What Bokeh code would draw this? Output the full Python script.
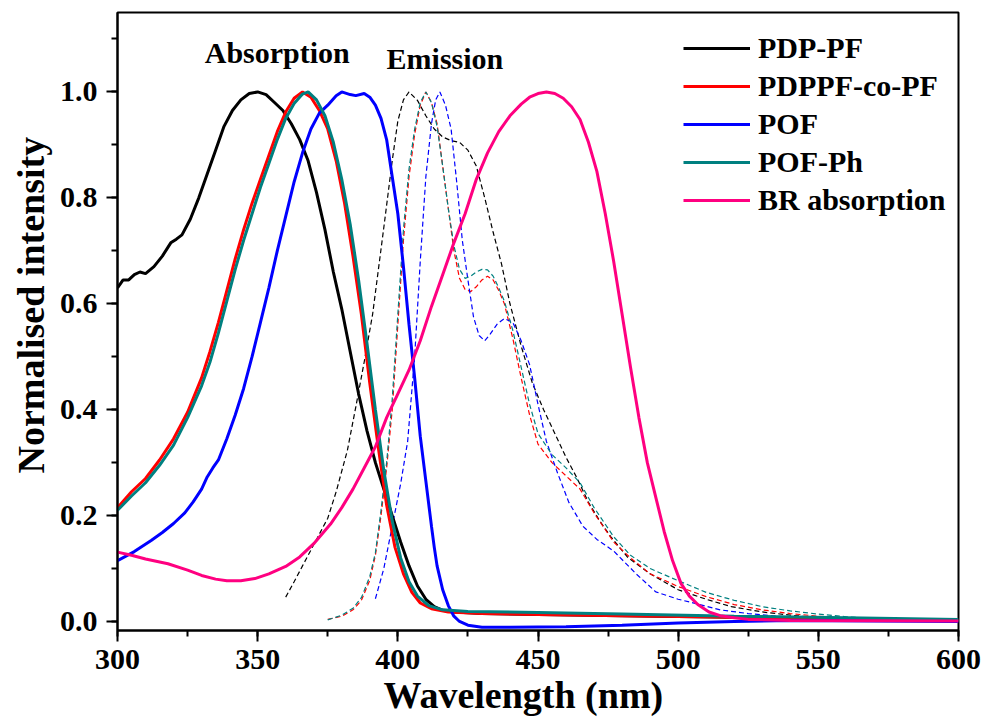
from bokeh.plotting import figure
from bokeh.models import Range1d, SingleIntervalTicker, PrintfTickFormatter, Legend, LegendItem, Label, Title
from bokeh.embed import file_html
from bokeh.resources import INLINE

# ---------------- data ----------------
# Absorption spectra (solid)
pdp_abs_x = [300, 302, 304, 306, 308, 310, 313, 316, 319, 321, 323, 326, 329, 332, 335, 338, 341, 344, 347, 350,
             353, 356, 359, 362, 365, 368, 371, 374, 377, 380, 383, 386, 389, 392, 395, 398, 401, 404, 407, 410,
             413, 416, 420, 430, 450, 480, 520, 560, 600]
pdp_abs_y = [0.63, 0.645, 0.645, 0.655, 0.66, 0.657, 0.67, 0.69, 0.715, 0.722, 0.73, 0.76, 0.80, 0.845, 0.89, 0.935, 0.965, 0.985, 0.997, 1.0,
             0.995, 0.98, 0.965, 0.94, 0.91, 0.87, 0.81, 0.74, 0.66, 0.59, 0.51, 0.43, 0.36, 0.30, 0.25, 0.20, 0.15, 0.105, 0.067, 0.042,
             0.028, 0.021, 0.018, 0.015, 0.013, 0.011, 0.008, 0.005, 0.002]

co_abs_x = [300, 305, 310, 315, 320, 325, 330, 333, 336, 339, 342, 345, 348, 351, 354, 357, 360, 363, 366, 369,
            372, 375, 378, 381, 384, 387, 390, 393, 396, 399, 402, 405, 408, 412, 418, 430, 450, 480, 520, 560, 600]
co_abs_y = [0.215, 0.245, 0.27, 0.305, 0.345, 0.395, 0.46, 0.51, 0.565, 0.625, 0.685, 0.74, 0.79, 0.835, 0.88, 0.925, 0.962, 0.988, 1.0, 0.99,
            0.965, 0.93, 0.87, 0.79, 0.69, 0.58, 0.45, 0.33, 0.22, 0.14, 0.09, 0.055, 0.035, 0.024, 0.018, 0.015, 0.013, 0.011, 0.008, 0.005, 0.002]

pof_abs_x = [300, 306, 312, 316, 320, 324, 327, 330, 332, 334, 336, 339, 342, 345, 348, 351, 354, 357, 360, 363,
             366, 369, 372, 375, 378, 380, 383, 385, 388, 390, 392, 394, 396, 398, 400, 402, 404, 406, 408, 410,
             412, 413, 414, 416, 418, 420, 422, 425, 430, 440, 460, 480, 500, 520, 540, 570, 600]
pof_abs_y = [0.115, 0.132, 0.153, 0.168, 0.185, 0.205, 0.226, 0.25, 0.273, 0.29, 0.305, 0.345, 0.39, 0.44, 0.50, 0.565, 0.63, 0.70, 0.765, 0.83,
             0.885, 0.93, 0.96, 0.975, 0.993, 1.0, 0.995, 0.993, 0.997, 0.99, 0.975, 0.95, 0.91, 0.84, 0.77, 0.67, 0.56, 0.46, 0.35, 0.265,
             0.18, 0.14, 0.105, 0.06, 0.03, 0.01, 0.0, -0.007, -0.011, -0.011, -0.01, -0.007, -0.003, 0.0, 0.002, 0.001, 0.0]

pofph_abs_x = [300, 305, 310, 315, 320, 325, 330, 333, 336, 339, 342, 345, 348, 351, 354, 357, 360, 363, 366, 368,
               371, 374, 377, 380, 383, 386, 389, 392, 395, 398, 401, 404, 407, 411, 416, 425, 450, 480, 520, 560, 600]
pofph_abs_y = [0.21, 0.237, 0.262, 0.295, 0.333, 0.385, 0.445, 0.49, 0.545, 0.605, 0.665, 0.72, 0.77, 0.82, 0.865, 0.91, 0.95, 0.978, 0.996, 1.0,
               0.985, 0.955, 0.905, 0.835, 0.75, 0.645, 0.525, 0.40, 0.285, 0.19, 0.12, 0.075, 0.048, 0.03, 0.022, 0.019, 0.017, 0.014, 0.01, 0.007, 0.004]

br_abs_x = [300, 305, 310, 318, 325, 330, 335, 339, 344, 349, 354, 360, 365, 370, 376, 380, 384, 388, 392, 396,
            400, 404, 408, 412, 416, 420, 424, 428, 432, 436, 440, 444, 447, 450, 453, 456, 459, 462, 465, 468,
            471, 474, 477, 480, 483, 486, 489, 492, 495, 498, 501, 504, 507, 511, 515, 520, 525, 540, 600]
br_abs_y = [0.131, 0.125, 0.118, 0.109, 0.097, 0.087, 0.08, 0.077, 0.077, 0.081, 0.09, 0.104, 0.122, 0.147, 0.184, 0.215, 0.25, 0.29, 0.33, 0.385,
            0.43, 0.475, 0.53, 0.595, 0.655, 0.715, 0.77, 0.835, 0.885, 0.925, 0.955, 0.977, 0.99, 0.997, 1.0, 0.997, 0.988, 0.972, 0.948, 0.905,
            0.85, 0.77, 0.68, 0.58, 0.48, 0.385, 0.30, 0.235, 0.17, 0.115, 0.072, 0.048, 0.032, 0.018, 0.011, 0.007, 0.004, 0.002, 0.001]

# Emission spectra (dashed)
pdp_em_x = [360, 363, 366, 369, 372, 375, 378, 382, 385, 388, 391, 395, 398, 400, 402, 404, 407, 410, 413, 416,
            419, 422, 425, 428, 431, 434, 437, 440, 444, 448, 452, 456, 460, 464, 468, 472, 476, 482, 490, 500,
            510, 519, 530, 540, 548, 560, 572, 600]
pdp_em_y = [0.046, 0.075, 0.105, 0.135, 0.165, 0.195, 0.245, 0.323, 0.405, 0.49, 0.58, 0.744, 0.87, 0.945, 0.985, 1.0, 0.984, 0.955, 0.93, 0.915,
            0.908, 0.905, 0.89, 0.86, 0.80, 0.735, 0.675, 0.60, 0.52, 0.45, 0.40, 0.355, 0.31, 0.27, 0.225, 0.19, 0.16, 0.121, 0.09, 0.06,
            0.042, 0.028, 0.018, 0.012, 0.008, 0.005, 0.002, 0.0]

co_em_x = [375, 380, 384, 387, 390, 392, 394, 396, 398, 400, 402, 404, 406, 408, 410, 412, 414, 416, 418, 420,
           422, 424, 426, 428, 430, 432, 434, 436, 438, 441, 444, 447, 450, 455, 460, 465, 470, 477, 483, 490,
           500, 510, 520, 530, 540, 550, 565, 580, 600]
co_em_y = [0.004, 0.01, 0.022, 0.04, 0.078, 0.125, 0.2, 0.29, 0.40, 0.56, 0.72, 0.84, 0.92, 0.975, 1.0, 0.98, 0.94, 0.86, 0.78, 0.70,
           0.648, 0.627, 0.623, 0.632, 0.645, 0.652, 0.645, 0.625, 0.60, 0.535, 0.46, 0.39, 0.335, 0.30, 0.275, 0.25, 0.205, 0.15, 0.12, 0.09,
           0.066, 0.047, 0.032, 0.022, 0.015, 0.01, 0.005, 0.003, 0.001]

pof_em_x = [392, 395, 398, 401, 403.5, 406, 408, 410, 412, 413.5, 415, 417, 419, 421, 423, 425, 427, 429, 431, 433,
            435.5, 438, 441, 444, 447, 450, 453, 457, 461, 466, 471, 477, 485, 492, 500, 507, 515, 525, 540, 560,
            580, 600]
pof_em_y = [0.043, 0.10, 0.18, 0.26, 0.34, 0.50, 0.68, 0.84, 0.94, 0.985, 1.0, 0.975, 0.93, 0.83, 0.72, 0.645, 0.575, 0.54, 0.53, 0.543,
            0.562, 0.572, 0.565, 0.53, 0.485, 0.41, 0.34, 0.28, 0.225, 0.18, 0.155, 0.133, 0.09, 0.056, 0.042, 0.033, 0.022, 0.015, 0.008, 0.004,
            0.002, 0.0]

pofph_em_x = [375, 380, 384, 387, 390, 392, 394, 396, 398, 400, 402, 404, 406, 408, 410, 412, 414, 416, 418, 420,
              422, 424, 426, 428, 430, 432, 434, 436, 438, 441, 444, 447, 450, 455, 460, 465, 470, 477, 483, 490,
              500, 510, 520, 530, 540, 550, 560, 572, 585, 600]
pofph_em_y = [0.003, 0.012, 0.025, 0.045, 0.085, 0.13, 0.21, 0.30, 0.42, 0.58, 0.74, 0.855, 0.93, 0.98, 1.0, 0.98, 0.935, 0.86, 0.78, 0.71,
              0.665, 0.648, 0.652, 0.66, 0.665, 0.664, 0.652, 0.63, 0.605, 0.55, 0.48, 0.41, 0.355, 0.315, 0.29, 0.262, 0.215, 0.16, 0.125, 0.10,
              0.077, 0.055, 0.04, 0.028, 0.02, 0.014, 0.009, 0.005, 0.003, 0.002]

series_names = ["PDP-PF", "PDPPF-co-PF", "POF", "POF-Ph", "BR absorption"]
x_ticks_interval = 50
y_ticks_interval = 0.2
x_title = "Wavelength (nm)"
y_title = "Normalised intensity"

# ---------------- styles ----------------
FONT = "Liberation Serif"
C_BLACK = "#000000"
C_RED = "#FF0000"
C_BLUE = "#0000FF"
C_TEAL = "#008080"
C_PINK = "#FF0080"

p = figure(width=984, height=721, output_backend="svg", toolbar_location=None,
           x_range=Range1d(300, 600), y_range=Range1d(-0.017, 1.15),
           min_border_left=117, min_border_right=26, min_border_top=12, min_border_bottom=91)
p.grid.visible = False
p.outline_line_color = "black"
p.outline_line_width = 2
p.background_fill_color = "white"
p.border_fill_color = "white"

p.xaxis.ticker = SingleIntervalTicker(interval=x_ticks_interval, num_minor_ticks=2)
p.yaxis.ticker = SingleIntervalTicker(interval=y_ticks_interval, num_minor_ticks=2)
p.yaxis.formatter = PrintfTickFormatter(format="%.1f")

for ax in (p.xaxis, p.yaxis):
    ax.axis_line_width = 2
    ax.major_tick_line_width = 2
    ax.minor_tick_line_width = 2
    ax.major_tick_in = 0
    ax.major_tick_out = 11
    ax.minor_tick_in = 0
    ax.minor_tick_out = 6
    ax.major_label_text_font = FONT
    ax.major_label_text_font_style = "bold"
    ax.major_label_text_font_size = "30px"
    ax.major_label_text_color = "black"

p.xaxis.major_label_standoff = 8
p.yaxis.major_label_standoff = 9

# axis titles (as side titles so that they can sit where the reference has them)
p.add_layout(Title(text=x_title, align="left", offset=266, standoff=0,
                   text_font=FONT, text_font_style="bold", text_font_size="38px", text_color="black"), "below")
p.add_layout(Title(text=y_title, align="left", offset=157, standoff=9,
                   text_font=FONT, text_font_style="bold", text_font_size="38px", text_color="black"), "left")

# dashed emission curves
dash = "5 3"
p.line(pdp_em_x, pdp_em_y, line_color=C_BLACK, line_width=1.2, line_dash=dash)
p.line(co_em_x, co_em_y, line_color=C_RED, line_width=1.2, line_dash=dash)
p.line(pof_em_x, pof_em_y, line_color=C_BLUE, line_width=1.2, line_dash=dash)
p.line(pofph_em_x, pofph_em_y, line_color=C_TEAL, line_width=1.2, line_dash=dash)

# solid absorption curves
r1 = p.line(pdp_abs_x, pdp_abs_y, line_color=C_BLACK, line_width=3)
r2 = p.line(co_abs_x, co_abs_y, line_color=C_RED, line_width=3)
r3 = p.line(pof_abs_x, pof_abs_y, line_color=C_BLUE, line_width=3)
r4 = p.line(pofph_abs_x, pofph_abs_y, line_color=C_TEAL, line_width=3)
r5 = p.line(br_abs_x, br_abs_y, line_color=C_PINK, line_width=3)

legend = Legend(items=[LegendItem(label=n, renderers=[r]) for n, r in zip(series_names, [r1, r2, r3, r4, r5])],
                location=(556, 401), border_line_alpha=0, background_fill_alpha=0,
                label_text_font=FONT, label_text_font_style="bold", label_text_font_size="30px",
                label_text_color="black",
                glyph_width=67, glyph_height=38, label_height=38, spacing=0,
                padding=10, margin=0, label_standoff=8)
p.add_layout(legend)

p.add_layout(Label(x=357.0, y=1.074, text="Absorption", text_align="center", text_baseline="middle",
                   text_font=FONT, text_font_style="bold", text_font_size="30px", text_color="black"))
p.add_layout(Label(x=416.8, y=1.063, text="Emission", text_align="center", text_baseline="middle",
                   text_font=FONT, text_font_style="bold", text_font_size="30px", text_color="black"))

open("out.html", "w").write(file_html(p, INLINE))
